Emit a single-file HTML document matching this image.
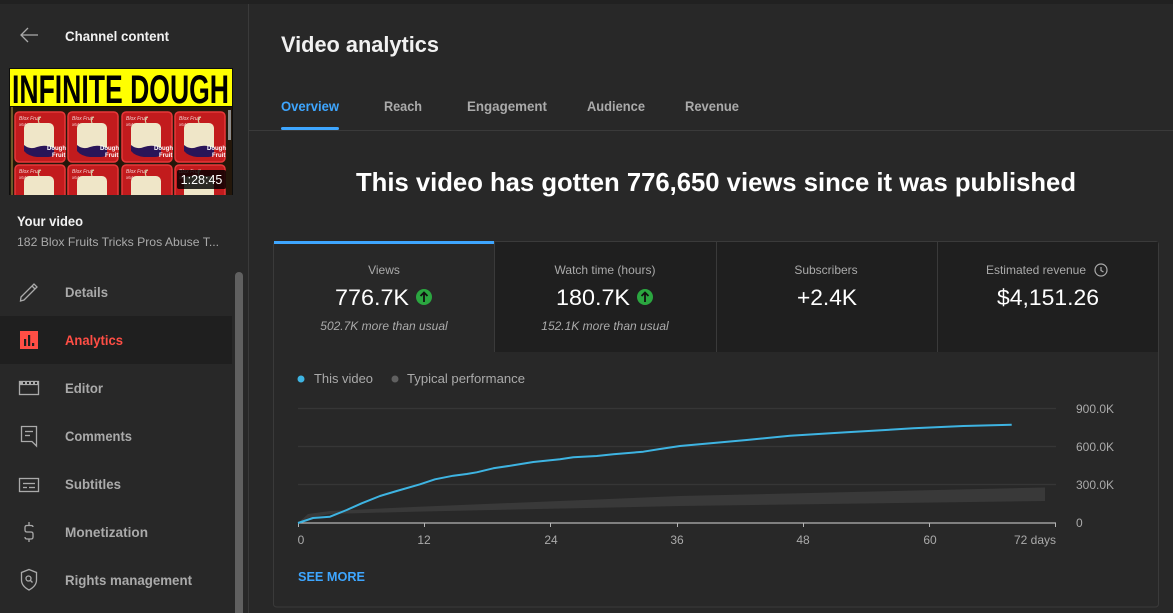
<!DOCTYPE html>
<html><head><meta charset="utf-8"><style>
html,body{margin:0;padding:0;background:#282828;width:1173px;height:613px;overflow:hidden}
svg{display:block;font-family:"Liberation Sans",sans-serif}
</style></head><body>
<svg width="1173" height="613" viewBox="0 0 1173 613" xmlns="http://www.w3.org/2000/svg">
<defs>
<g id="cube">
<rect x="0" y="0" width="50" height="50" rx="4" fill="#c21b1d" stroke="#e8383a" stroke-width="1.5"/>
<text x="4" y="8" font-size="5" fill="#ffffff" fill-opacity="0.8" font-style="italic">Blox Fruit</text>
<text x="4" y="14" font-size="4.5" fill="#ffffff" fill-opacity="0.8">x64</text>
<rect x="9" y="11" width="30" height="30" rx="5" fill="#efe6c8"/>
<path d="M9 33 Q15 38 22 35 Q30 32 39 36 V40 Q39 45 33 45 H22 Q13 44 9 39 Z" fill="#2a1558"/>
<path d="M24 11 Q22 6 26 5" stroke="#d8c8a0" stroke-width="1.2" fill="none"/>
<text x="32" y="38" font-size="6" fill="#fff" font-weight="bold">Dough</text>
<text x="37" y="45" font-size="6" fill="#fff" font-weight="bold">Fruit</text>
</g>
</defs>
<rect x="0" y="0" width="1173" height="613" fill="#282828"/>
<rect x="0" y="0" width="1173" height="4" fill="#212121"/>
<line x1="248.5" y1="4" x2="248.5" y2="613" stroke="#3a3a3a" stroke-width="1"/>

<!-- Sidebar header -->
<g stroke="#aaaaaa" stroke-width="1.3" fill="none">
<line x1="21" y1="35" x2="38" y2="35"/>
<polyline points="28,28 21,35 28,42"/>
</g>
<text x="65" y="41" font-size="13.5" font-weight="bold" fill="#f1f1f1" textLength="104" lengthAdjust="spacingAndGlyphs">Channel content</text>

<!-- Thumbnail -->
<rect x="9" y="68" width="224" height="127" fill="#0d0d0d"/>
<rect x="10" y="69" width="222" height="37" fill="#ffff00"/>
<text x="12" y="103" font-size="40" font-weight="bold" fill="#000" font-family="'Liberation Sans Narrow','Liberation Sans',sans-serif" textLength="217" lengthAdjust="spacingAndGlyphs">INFINITE DOUGH</text>
<rect x="10" y="107" width="222" height="88" fill="#24170a"/>
<rect x="11" y="107" width="2" height="88" fill="#6b5a2a"/>
<use href="#cube" x="15" y="112"/>
<use href="#cube" x="68" y="112"/>
<use href="#cube" x="122" y="112"/>
<use href="#cube" x="175" y="112"/>
<use href="#cube" x="15" y="165"/>
<use href="#cube" x="68" y="165"/>
<use href="#cube" x="122" y="165"/>
<use href="#cube" x="175" y="165"/>
<rect x="228" y="110" width="3" height="30" fill="#8a8a8a"/>
<rect x="0" y="195" width="248" height="30" fill="#282828"/>
<rect x="177" y="170" width="49" height="19" rx="2" fill="#000" fill-opacity="0.82"/>
<text x="201.5" y="184" font-size="12.5" fill="#fff" text-anchor="middle">1:28:45</text>

<text x="17" y="226" font-size="14" font-weight="bold" fill="#f1f1f1" textLength="66" lengthAdjust="spacingAndGlyphs">Your video</text>
<text x="17" y="246" font-size="12" fill="#aaaaaa" textLength="202" lengthAdjust="spacingAndGlyphs">182 Blox Fruits Tricks Pros Abuse T...</text>

<!-- Nav -->
<rect x="0" y="316" width="232" height="48" fill="#1f1f1f"/>
<rect x="235" y="272" width="8" height="345" rx="4" fill="#606060"/>

<g stroke="#aaaaaa" stroke-width="1.3" fill="none">
<polygon points="21,297 34,284 37,287 24,300 20.5,301"/>
<line x1="32" y1="286" x2="35" y2="289"/>
<rect x="19.5" y="381.5" width="19" height="13"/>
<line x1="19.5" y1="384.5" x2="38.5" y2="384.5"/>
<path d="M21.5 426.5 H36.5 V441.5 L36.5 446 L32 441.5 H21.5 Z"/>
<line x1="25" y1="431.5" x2="33" y2="431.5"/>
<line x1="25" y1="435.5" x2="30" y2="435.5"/>
<rect x="19.5" y="478.5" width="19" height="13"/>
<line x1="23" y1="483.5" x2="35" y2="483.5"/>
<line x1="23" y1="487.5" x2="27" y2="487.5"/>
<line x1="29" y1="487.5" x2="35" y2="487.5"/>
<path d="M33 527 Q33 525.5 31 525.5 H27 Q25 525.5 25 527.5 V530 Q25 532 27 532 H31 Q33 532 33 534 V537 Q33 539 31 539 H27 Q25 539 25 537"/>
<line x1="29" y1="522" x2="29" y2="525.5"/>
<line x1="29" y1="539" x2="29" y2="542"/>
<path d="M29 569.5 L36.5 572.5 V580 Q36.5 586 29 590 Q21.5 586 21.5 580 V572.5 Z"/>
<circle cx="28.5" cy="578.5" r="2.5"/>
<line x1="30.5" y1="580.5" x2="32.5" y2="582.5"/>
</g>
<g fill="#aaaaaa">
<rect x="20" y="381" width="19" height="4"/>
</g>
<g fill="#282828">
<rect x="23" y="382" width="2" height="2"/><rect x="27" y="382" width="2" height="2"/><rect x="31" y="382" width="2" height="2"/><rect x="35" y="382" width="2" height="2"/>
</g>
<rect x="20" y="331" width="18" height="18" fill="#ff4e45"/>
<rect x="24" y="339" width="2.2" height="7" fill="#1f1f1f"/>
<rect x="28" y="335" width="2.2" height="11" fill="#1f1f1f"/>
<rect x="32" y="343" width="2.2" height="3" fill="#1f1f1f"/>

<g font-size="14" font-weight="bold" fill="#aaaaaa">
<text x="65" y="297" textLength="43" lengthAdjust="spacingAndGlyphs">Details</text>
<text x="65" y="345" fill="#ff4e45" textLength="58" lengthAdjust="spacingAndGlyphs">Analytics</text>
<text x="65" y="393" textLength="38" lengthAdjust="spacingAndGlyphs">Editor</text>
<text x="65" y="441" textLength="67" lengthAdjust="spacingAndGlyphs">Comments</text>
<text x="65" y="489" textLength="56" lengthAdjust="spacingAndGlyphs">Subtitles</text>
<text x="65" y="537" textLength="83" lengthAdjust="spacingAndGlyphs">Monetization</text>
<text x="65" y="585" textLength="127" lengthAdjust="spacingAndGlyphs">Rights management</text>
</g>

<!-- Main header -->
<text x="281" y="52" font-size="22" font-weight="bold" fill="#f1f1f1" textLength="158" lengthAdjust="spacingAndGlyphs">Video analytics</text>
<g font-size="14" font-weight="bold" fill="#aaaaaa">
<text x="281" y="111" fill="#3ea6ff" textLength="58" lengthAdjust="spacingAndGlyphs">Overview</text>
<text x="384" y="111" textLength="38" lengthAdjust="spacingAndGlyphs">Reach</text>
<text x="467" y="111" textLength="80" lengthAdjust="spacingAndGlyphs">Engagement</text>
<text x="587" y="111" textLength="58" lengthAdjust="spacingAndGlyphs">Audience</text>
<text x="685" y="111" textLength="54" lengthAdjust="spacingAndGlyphs">Revenue</text>
</g>
<line x1="249" y1="130.5" x2="1173" y2="130.5" stroke="#3a3a3a" stroke-width="1"/>
<rect x="281" y="127" width="58" height="3" rx="1.5" fill="#3ea6ff"/>

<text x="356" y="191" font-size="26" font-weight="bold" fill="#ffffff" textLength="720" lengthAdjust="spacingAndGlyphs">This video has gotten 776,650 views since it was published</text>

<!-- Card -->
<rect x="273.5" y="241.5" width="885" height="365.5" rx="3" fill="#282828" stroke="#3a3a3a" stroke-width="1"/>
<rect x="494" y="242" width="664" height="110" fill="#1f1f1f"/>
<g stroke="#3a3a3a" stroke-width="1">
<line x1="494.5" y1="242" x2="494.5" y2="352"/>
<line x1="716.5" y1="242" x2="716.5" y2="352"/>
<line x1="937.5" y1="242" x2="937.5" y2="352"/>
</g>
<rect x="274" y="241" width="220" height="3" fill="#3ea6ff"/>

<g font-size="12" fill="#aaaaaa" text-anchor="middle">
<text x="384" y="274">Views</text>
<text x="605" y="274">Watch time (hours)</text>
<text x="826" y="274">Subscribers</text>
<text x="1036" y="274">Estimated revenue</text>
</g>
<circle cx="1101" cy="270" r="6" fill="none" stroke="#aaaaaa" stroke-width="1.2"/>
<polyline points="1101,267 1101,270.5 1103.5,272" fill="none" stroke="#aaaaaa" stroke-width="1.2"/>

<g font-size="22" fill="#ffffff">
<text x="335" y="305" textLength="74" lengthAdjust="spacingAndGlyphs">776.7K</text>
<text x="556" y="305" textLength="74" lengthAdjust="spacingAndGlyphs">180.7K</text>
<text x="797" y="305" textLength="60" lengthAdjust="spacingAndGlyphs">+2.4K</text>
<text x="997" y="305" textLength="102" lengthAdjust="spacingAndGlyphs">$4,151.26</text>
</g>
<g>
<circle cx="424" cy="297" r="8" fill="#2ba640"/>
<path d="M424 302 V292.5 M420.5 296 L424 292.5 L427.5 296" stroke="#111" stroke-width="1.8" fill="none"/>
<circle cx="645" cy="297" r="8" fill="#2ba640"/>
<path d="M645 302 V292.5 M641.5 296 L645 292.5 L648.5 296" stroke="#111" stroke-width="1.8" fill="none"/>
</g>
<g font-size="12" font-style="italic" fill="#aaaaaa" text-anchor="middle">
<text x="384" y="330">502.7K more than usual</text>
<text x="605" y="330">152.1K more than usual</text>
</g>

<!-- Legend -->
<circle cx="301" cy="379" r="3.5" fill="#3eb4e2"/>
<text x="314" y="383" font-size="13" fill="#aaaaaa" textLength="59" lengthAdjust="spacingAndGlyphs">This video</text>
<circle cx="395" cy="379" r="3.5" fill="#606060"/>
<text x="407" y="383" font-size="13" fill="#aaaaaa" textLength="118" lengthAdjust="spacingAndGlyphs">Typical performance</text>

<!-- Chart grid -->
<g stroke="#363636" stroke-width="1.3">
<line x1="298" y1="408.5" x2="1056" y2="408.5"/>
<line x1="298" y1="446.5" x2="1056" y2="446.5"/>
<line x1="298" y1="484.5" x2="1056" y2="484.5"/>
</g>
<polygon points="298,523 308,514 330,511 413,507 680,496 1045,487.5 1045,501 680,506 413,511.7 330,514 308,518" fill="#393939"/>
<line x1="298" y1="523" x2="1056" y2="523" stroke="#b5b5b5" stroke-width="1.2"/>
<g stroke="#b5b5b5" stroke-width="1">
<line x1="298.5" y1="523" x2="298.5" y2="527"/>
<line x1="424.5" y1="523" x2="424.5" y2="527"/>
<line x1="550.5" y1="523" x2="550.5" y2="527"/>
<line x1="677.5" y1="523" x2="677.5" y2="527"/>
<line x1="803.5" y1="523" x2="803.5" y2="527"/>
<line x1="929.5" y1="523" x2="929.5" y2="527"/>
<line x1="1055.5" y1="523" x2="1055.5" y2="527"/>
</g>
<polyline fill="none" stroke="#3eb4e2" stroke-width="2" stroke-linejoin="round" points="298,523 313,518 330,516.7 346.7,510 361.7,503.3 380,496 396.7,491 420,484.3 435,479.3 453.3,475.7 466.7,474 476.7,472.3 493.3,468.3 513.3,465.3 533.3,462 560,459.3 573.3,457.3 596.7,456 613.3,454.3 643.3,451.7 660,449 680,446 746.7,440 790,435.7 846.7,432.3 913.3,428.3 963.3,426 1011.7,424.7"/>

<g font-size="12" fill="#aaaaaa">
<text x="1076" y="413">900.0K</text>
<text x="1076" y="451">600.0K</text>
<text x="1076" y="489">300.0K</text>
<text x="1076" y="527">0</text>
</g>
<g font-size="12" fill="#aaaaaa" text-anchor="middle">
<text x="301" y="544">0</text>
<text x="424" y="544">12</text>
<text x="551" y="544">24</text>
<text x="677" y="544">36</text>
<text x="803" y="544">48</text>
<text x="930" y="544">60</text>
<text x="1056" y="544" text-anchor="end">72 days</text>
</g>

<text x="298" y="581" font-size="13" font-weight="bold" fill="#3ea6ff" textLength="67" lengthAdjust="spacingAndGlyphs">SEE MORE</text>
</svg>
</body></html>
